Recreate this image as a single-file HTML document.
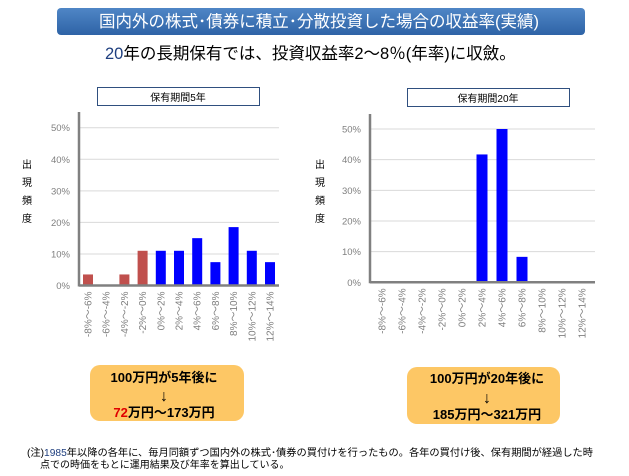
<!DOCTYPE html>
<html><head><meta charset="utf-8"><style>
body{margin:0;background:#fff;}
svg{display:block;font-family:"Liberation Sans","Noto Sans CJK JP",sans-serif;}
</style></head><body>
<svg id="s" width="629" height="476" viewBox="0 0 629 476" xmlns="http://www.w3.org/2000/svg">
<defs>
<linearGradient id="bg" x1="0" y1="0" x2="0" y2="1"><stop offset="0" stop-color="#4f86c6"/><stop offset="1" stop-color="#2e63a6"/></linearGradient>
</defs>
<rect x="57" y="8" width="528" height="27" rx="4" fill="url(#bg)"/>
<text x="319" y="27" text-anchor="middle" font-size="16.5" fill="#fff">国内外の株式･債券に積立･分散投資した場合の収益率(実績)</text>
<text x="105" y="59" font-size="16.5" fill="#000"><tspan fill="#1f3f7f">20</tspan>年の長期保有では、投資収益率2～8％(年率)に収斂。</text>

<rect x="97.5" y="87.5" width="162" height="18" fill="#fff" stroke="#2f4f7f"/>
<text x="178" y="101" text-anchor="middle" font-size="10">保有期間5年</text>
<rect x="407.5" y="88.5" width="162" height="18" fill="#fff" stroke="#2f4f7f"/>
<text x="488" y="102" text-anchor="middle" font-size="10">保有期間20年</text>

<g font-size="10"><text x="27" y="168" text-anchor="middle">出</text><text x="27" y="186" text-anchor="middle">現</text><text x="27" y="204" text-anchor="middle">頻</text><text x="27" y="222" text-anchor="middle">度</text></g>
<g font-size="10"><text x="320" y="168" text-anchor="middle">出</text><text x="320" y="186" text-anchor="middle">現</text><text x="320" y="204" text-anchor="middle">頻</text><text x="320" y="222" text-anchor="middle">度</text></g>
<g id="c1"></g><g id="c2"></g>

<rect x="90" y="365" width="154" height="56" rx="10" fill="#fdc765"/>
<g font-size="13" font-weight="bold" text-anchor="middle">
<text x="164" y="382">100万円が5年後に</text><text x="164" y="401" font-size="16">↓</text>
<text x="164" y="417"><tspan fill="#e00000">72</tspan>万円～173万円</text></g>
<rect x="407" y="367" width="153" height="57" rx="10" fill="#fdc765"/>
<g font-size="13" font-weight="bold" text-anchor="middle">
<text x="487" y="383">100万円が20年後に</text><text x="487" y="403" font-size="16">↓</text>
<text x="487" y="419">185万円～321万円</text></g>

<g font-size="10" fill="#000">
<text x="27" y="456" textLength="566" lengthAdjust="spacingAndGlyphs">(注)<tspan fill="#1f3f7f">1985</tspan>年以降の各年に、毎月同額ずつ国内外の株式･債券の買付けを行ったもの。各年の買付け後、保有期間が経過した時</text>
<text x="40" y="468">点での時価をもとに運用結果及び年率を算出している。</text></g>
</svg>
<script>
const categories=["-8%～-6%","-6%～-4%","-4%～-2%","-2%～0%","0%～2%","2%～4%","4%～6%","6%～8%","8%～10%","10%～12%","12%～14%"];
const values5y=[3.5,0,3.5,11,11,11,15,7.4,18.5,11,7.4];
const values20y=[0,0,0,0,0,41.7,50,8.3,0,0,0];
const yTicks=[0,10,20,30,40,50];
const NS="http://www.w3.org/2000/svg";
function mk(g,t,a){const e=document.createElementNS(NS,t);for(const k in a)e.setAttribute(k,a[k]);g.appendChild(e);return e;}
function draw(id,vals,x0,x1,yb,y50,first,step,bw,topY,name){
 const g=document.getElementById(id);
 const y=v=>yb-(yb-y50)*v/50;
 const x=i=>first+i*step;
 yTicks.forEach(t=>{
  if(t>0){const l=mk(g,'line',{x1:x0,x2:x1,y1:y(t),y2:y(t),stroke:'#d9d9d9','stroke-width':1});
  }
  const tx=mk(g,'text',{x:x0-9,y:y(t)+3.5,'text-anchor':'end','font-size':'9.5',fill:'#7f7f7f'});
  tx.textContent=t+'%';
  
 });
 vals.forEach((v,i)=>{
  if(v>0){const r=mk(g,'rect',{x:x(i)-bw/2,y:y(v),width:bw,height:yb-y(v),fill:(name==='5y'&&i<4)?'#c0504d':'#0000ff'});
  }
  const tx=mk(g,'text',{transform:`translate(${x(i)+3.5},${yb+6}) rotate(-90)`,'text-anchor':'end','font-size':'10',fill:'#7f7f7f'});
  tx.textContent=categories[i];
  
 });
 const ax=mk(g,'line',{x1:x0,x2:x0,y1:topY,y2:yb+1,stroke:'#808080','stroke-width':2.5});
 
 const bx=mk(g,'line',{x1:x0,x2:x1,y1:yb,y2:yb,stroke:'#808080','stroke-width':2.5});
 
}
draw('c1',values5y,79,279,285.5,127.7,88,18.2,10,112,'5y');
draw('c2',values20y,370,595,282.3,129,382,20,11,114,'20y');
</script>
</body></html>
